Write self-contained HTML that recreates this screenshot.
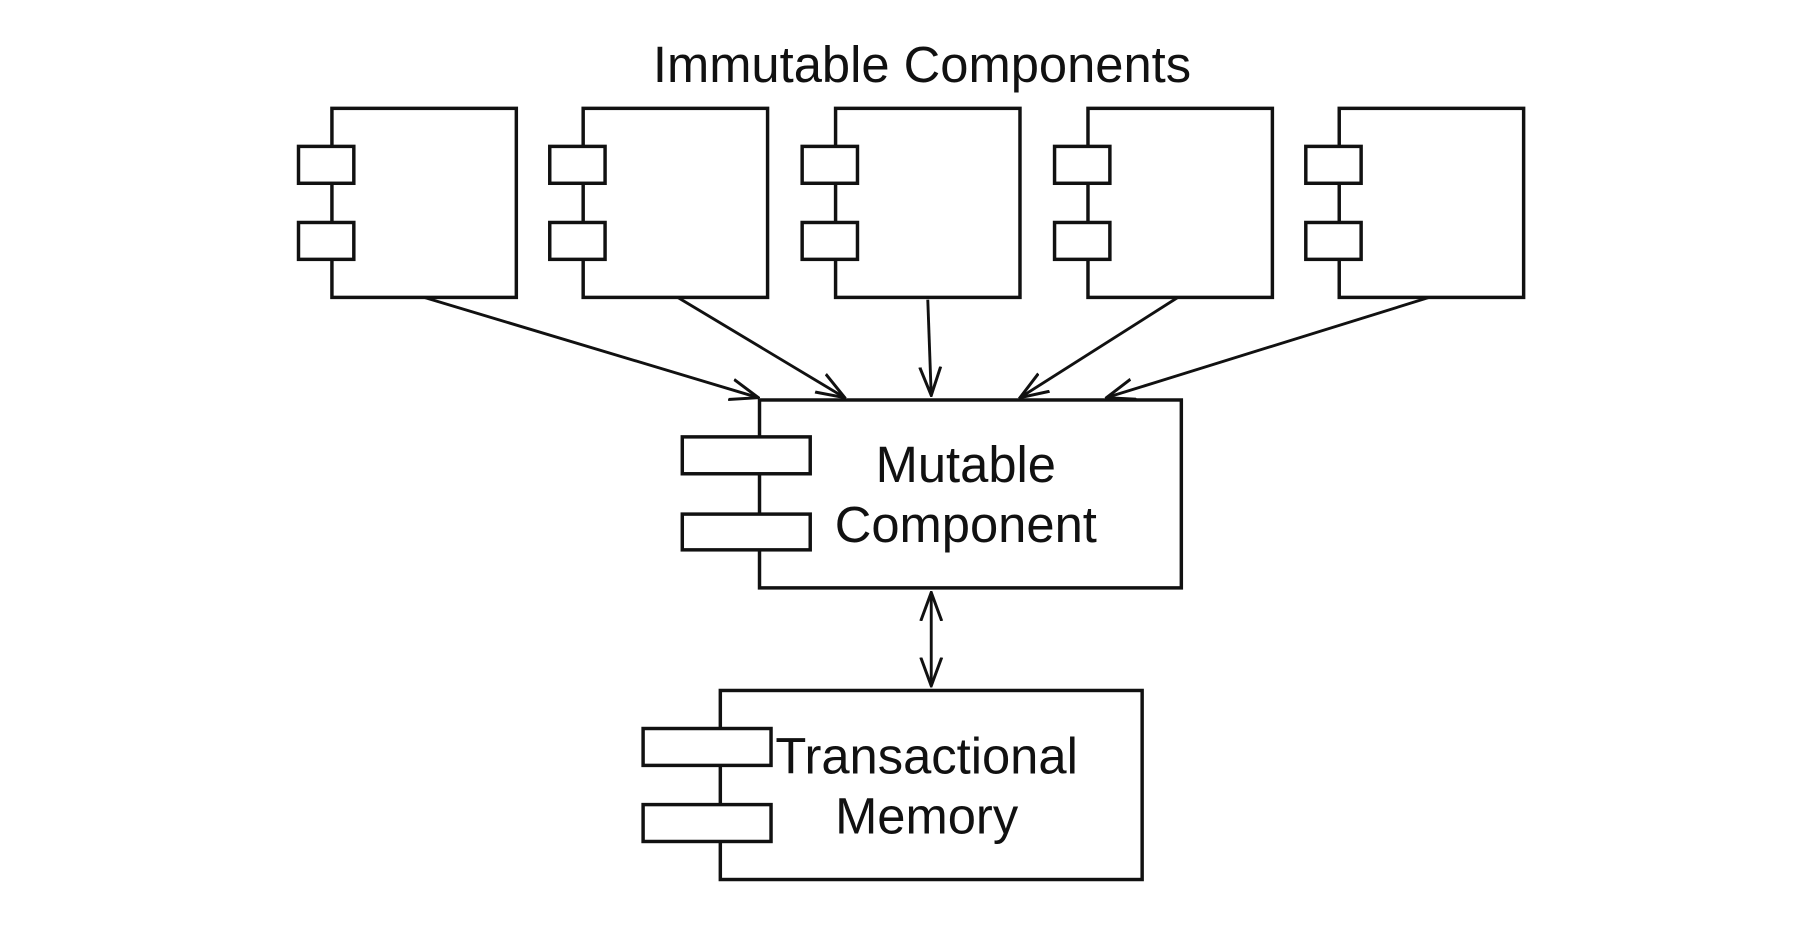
<!DOCTYPE html>
<html><head><style>html,body{margin:0;padding:0;background:#fff;}svg{display:block}</style></head>
<body>
<svg width="1806" height="936" viewBox="0 0 1567 812" preserveAspectRatio="none" xmlns="http://www.w3.org/2000/svg">
<defs>
<marker id="a" viewBox="0 0 20 20" refX="19" refY="10" markerWidth="26" markerHeight="26" markerUnits="userSpaceOnUse" orient="auto-start-reverse">
<path d="M0,3 L19,10 L0,17" fill="none" stroke="#111" stroke-width="2"/>
</marker>
</defs>
<g font-family="Liberation Sans, sans-serif" fill="#111" text-anchor="middle" font-size="44">
<text x="800" y="71">Immutable  Components</text>
<text x="838" y="418">Mutable</text>
<text x="838" y="470">Component</text>
<text x="804" y="671">Transactional</text>
<text x="804" y="723">Memory</text>
</g>
<g fill="#fff" stroke="#111" stroke-width="3">
<rect x="288" y="94" width="160" height="164"/><rect x="259" y="127" width="48" height="32"/><rect x="259" y="193" width="48" height="32"/>
<rect x="506" y="94" width="160" height="164"/><rect x="477" y="127" width="48" height="32"/><rect x="477" y="193" width="48" height="32"/>
<rect x="725" y="94" width="160" height="164"/><rect x="696" y="127" width="48" height="32"/><rect x="696" y="193" width="48" height="32"/>
<rect x="944" y="94" width="160" height="164"/><rect x="915" y="127" width="48" height="32"/><rect x="915" y="193" width="48" height="32"/>
<rect x="1162" y="94" width="160" height="164"/><rect x="1133" y="127" width="48" height="32"/><rect x="1133" y="193" width="48" height="32"/>
<rect x="659" y="347" width="366" height="163" fill="none"/>
<rect x="592" y="379" width="111" height="32"/><rect x="592" y="446" width="111" height="31"/>
<rect x="625" y="599" width="366" height="164" fill="none"/>
<rect x="558" y="632" width="111" height="32"/><rect x="558" y="698" width="111" height="32"/>
</g>
<g stroke="#111" stroke-width="2.5" fill="none" marker-end="url(#a)">
<line x1="368" y1="258" x2="658" y2="345"/>
<line x1="588" y1="258" x2="733" y2="345"/>
<line x1="805" y1="260" x2="808" y2="343"/>
<line x1="1022" y1="258" x2="885" y2="345"/>
<line x1="1240" y1="258" x2="960" y2="345"/>
<line x1="808" y1="514" x2="808" y2="595" marker-start="url(#a)"/>
</g>
</svg>
</body></html>
